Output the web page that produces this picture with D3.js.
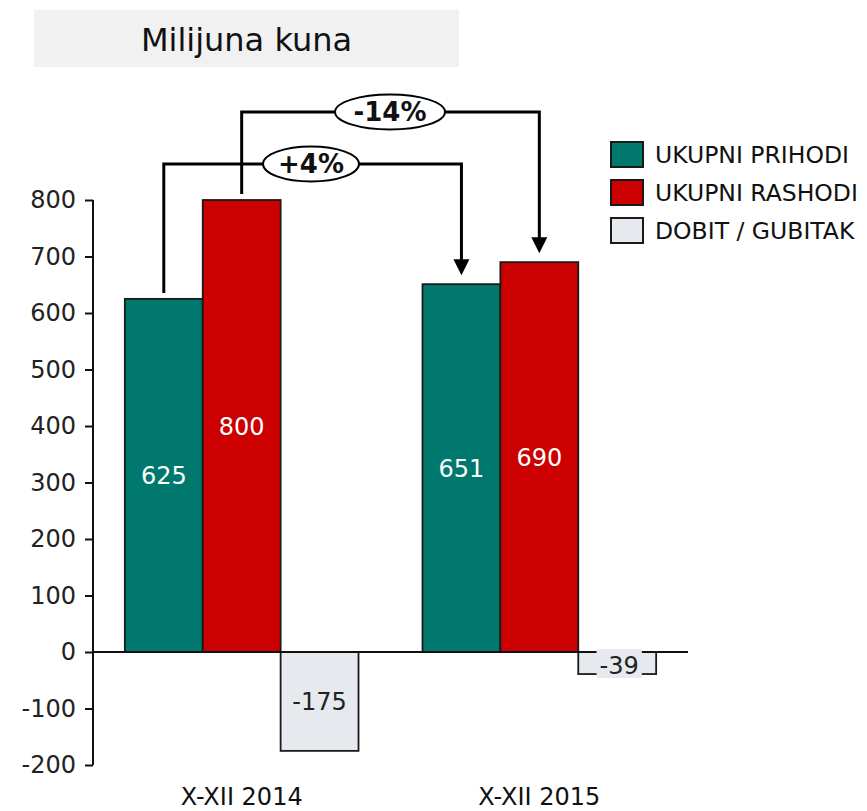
<!DOCTYPE html>
<html><head><meta charset="utf-8">
<script src="https://cdn.jsdelivr.net/npm/d3@7"></script>
<style>body{margin:0;background:#fff}svg{display:block}text{font-family:"DejaVu Sans",Verdana,sans-serif}</style>
</head><body><svg id="c" width="867" height="811"></svg>
<script>
const categories = ["X-XII 2014", "X-XII 2015"];
const seriesNames = ["UKUPNI PRIHODI", "UKUPNI RASHODI", "DOBIT / GUBITAK"];
const prihodi = [625, 651];
const rashodi = [800, 690];
const dobit = [-175, -39];
const yTicks = [-200, -100, 0, 100, 200, 300, 400, 500, 600, 700, 800];
const changeLabels = ["+4%", "-14%"];
const colors = ["#00786e", "#cc0000", "#e6e9ee"];

const svg = d3.select("#c");
const series = [prihodi, rashodi, dobit];

const y = d3.scaleLinear().domain([-200, 800]).range([765, 200]);
const x0 = d3.scaleBand().domain(categories).range([93, 688]).paddingInner(0.215).paddingOuter(0.107);
const x1 = d3.scaleBand().domain(seriesNames).range([0, x0.bandwidth()]);

// title box
svg.append("rect").attr("x", 34).attr("y", 10).attr("width", 425).attr("height", 57).attr("fill", "#f1f1f1");
svg.append("text").attr("x", 246.5).attr("y", 51).attr("text-anchor", "middle").attr("font-size", 32).attr("fill", "#111").text("Milijuna kuna");

// y axis
const yAxis = d3.axisLeft(y).tickValues(yTicks).tickSize(8).tickPadding(9).tickFormat(d => String(d));
const ga = svg.append("g").attr("transform", "translate(93,0)").call(yAxis);
ga.select(".domain").attr("stroke", "#111").attr("stroke-width", 2).attr("d", `M0,${y(800)}V${y(-200)}`);
ga.selectAll(".tick line").attr("stroke", "#111").attr("stroke-width", 2);
ga.selectAll(".tick text").attr("font-size", 24).attr("fill", "#222").attr("font-family", "DejaVu Sans, Verdana, sans-serif");

// bars
const rows = [];
categories.forEach((c, i) => seriesNames.forEach((s, j) => rows.push({c, s, j, v: series[j][i]})));
svg.append("g").selectAll("rect").data(rows).join("rect")
  .attr("x", d => x0(d.c) + x1(d.s))
  .attr("width", x1.bandwidth())
  .attr("y", d => y(Math.max(0, d.v)))
  .attr("height", d => Math.abs(y(d.v) - y(0)))
  .attr("fill", d => colors[d.j])
  .attr("stroke", "#1a1a1a").attr("stroke-width", 1.8);

// x axis line
svg.append("line").attr("x1", 93).attr("x2", 688).attr("y1", y(0)).attr("y2", y(0)).attr("stroke", "#111").attr("stroke-width", 2);

// value labels
const lg = svg.append("g");
rows.forEach(d => {
  const cx = x0(d.c) + x1(d.s) + x1.bandwidth() / 2;
  const cy = (y(d.v) + y(0)) / 2;
  const t = lg.append("text").attr("x", cx).attr("y", cy).attr("dy", "0.36em").attr("text-anchor", "middle")
    .attr("font-size", 24).attr("fill", d.j < 2 ? "#fff" : "#222").text(d.v);
  if (d.j === 2 && Math.abs(y(d.v) - y(0)) < 30) {
    t.attr("x", cx + 2).attr("y", cy + 2);
    const bb = t.node().getBBox();
    lg.insert("rect", () => t.node()).attr("x", bb.x - 3).attr("y", y(0) - 3).attr("width", bb.width + 6).attr("height", y(d.v) - y(0) + 7).attr("fill", colors[2]);
  }
});

// x labels
categories.forEach(c => {
  svg.append("text").attr("x", x0(c) + x0.bandwidth() / 2).attr("y", 805).attr("text-anchor", "middle")
    .attr("font-size", 24).attr("fill", "#111").text(c);
});

// change arrows
const ag = svg.append("g");
const arrowSpecs = [
  {j: 0, level: 164, lab: changeLabels[0], lx: 311, rx: 48},
  {j: 1, level: 112, lab: changeLabels[1], lx: 390, rx: 55}
];
arrowSpecs.forEach(a => {
  const s = seriesNames[a.j];
  const xa = x0(categories[0]) + x1(s) + x1.bandwidth() / 2;
  const xb = x0(categories[1]) + x1(s) + x1.bandwidth() / 2;
  const ya = y(series[a.j][0]) - 6;
  const yb = y(series[a.j][1]) - 9;
  ag.append("path").attr("d", `M${xa},${ya}V${a.level}H${xb}V${yb - 14}`).attr("fill", "none").attr("stroke", "#000").attr("stroke-width", 3);
  ag.append("path").attr("d", `M${xb - 8},${yb - 16}L${xb + 8},${yb - 16}L${xb},${yb}Z`).attr("fill", "#000");
  ag.append("ellipse").attr("cx", a.lx).attr("cy", a.level).attr("rx", a.rx).attr("ry", 17.5).attr("fill", "#fff").attr("stroke", "#000").attr("stroke-width", 2);
  ag.append("text").attr("x", a.lx).attr("y", a.level).attr("dy", "0.36em").attr("text-anchor", "middle")
    .attr("font-size", 26).attr("font-weight", "bold").attr("fill", "#111").text(a.lab);
});

// legend
const leg = svg.append("g");
seriesNames.forEach((s, j) => {
  const yy = 142 + j * 38;
  leg.append("rect").attr("x", 611).attr("y", yy).attr("width", 32).attr("height", 25).attr("fill", colors[j]).attr("stroke", "#1a1a1a").attr("stroke-width", 2);
  leg.append("text").attr("x", 655).attr("y", yy + 12.5).attr("dy", "0.36em").attr("font-size", 23.5).attr("fill", "#111").text(s);
});
</script></body></html>
